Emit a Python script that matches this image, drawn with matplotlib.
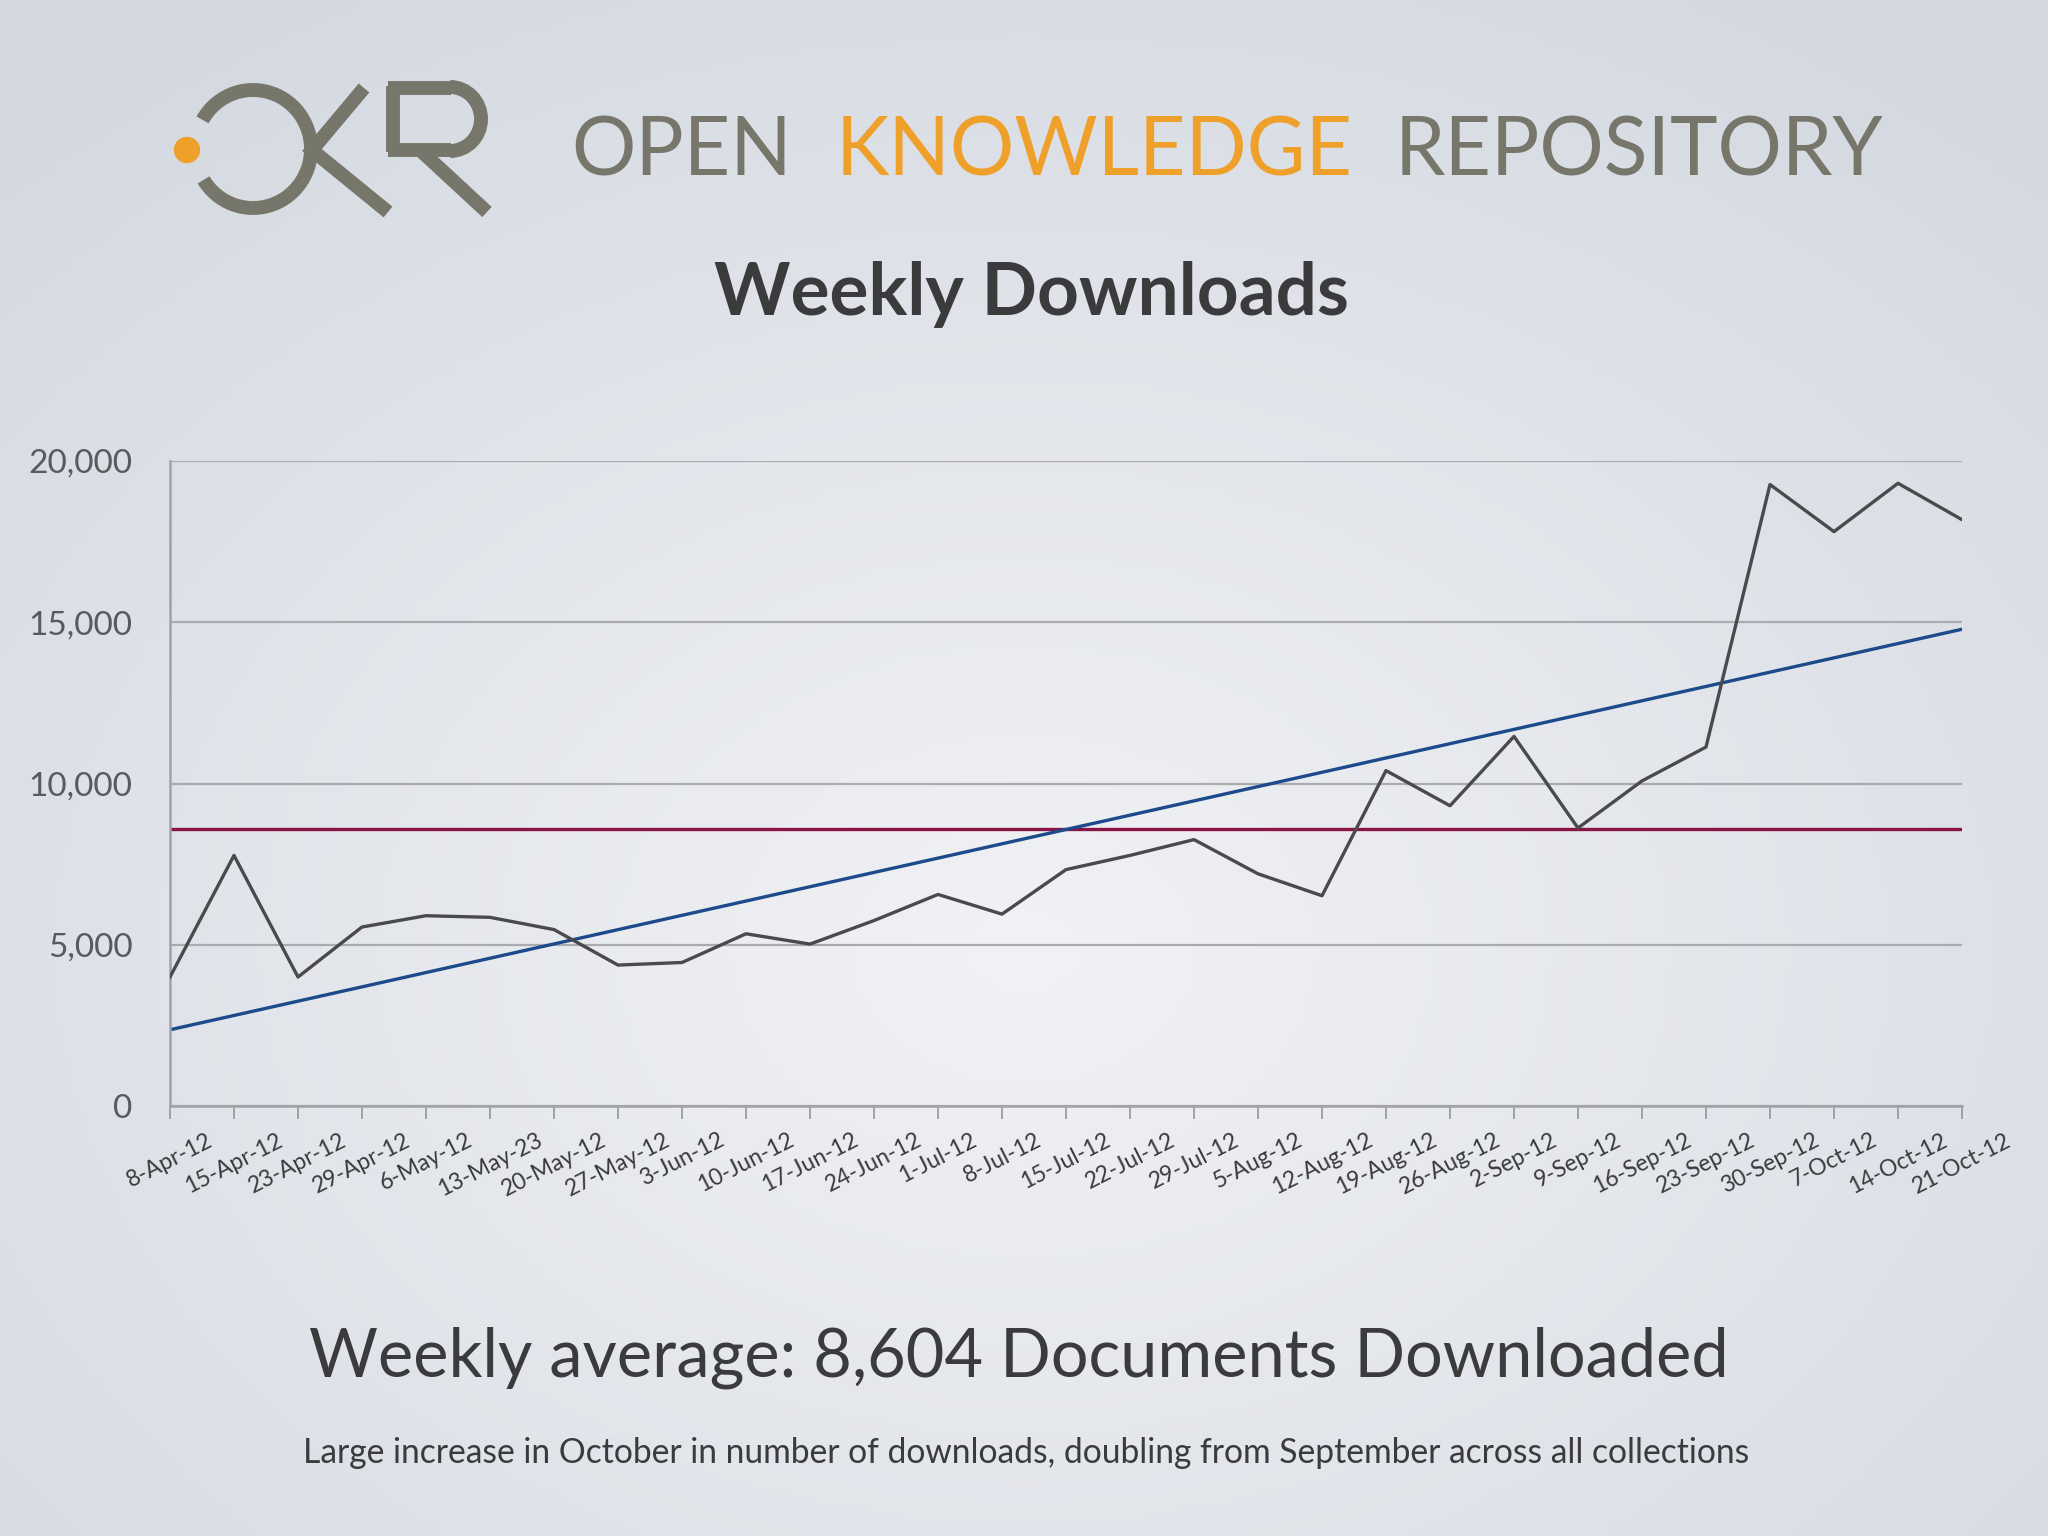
# coding: utf-8
import numpy as np
import matplotlib
matplotlib.use("Agg")
import matplotlib.pyplot as plt
from matplotlib.figure import Figure
from matplotlib.axes import Axes
from matplotlib.patches import Arc, Circle
from matplotlib.ticker import FuncFormatter

# data for drawing
weeks: list[str] = ["8-Apr-12", "15-Apr-12", "23-Apr-12", "29-Apr-12", "6-May-12",
                    "13-May-23", "20-May-12", "27-May-12", "3-Jun-12", "10-Jun-12",
                    "17-Jun-12", "24-Jun-12", "1-Jul-12", "8-Jul-12", "15-Jul-12",
                    "22-Jul-12", "29-Jul-12", "5-Aug-12", "12-Aug-12", "19-Aug-12",
                    "26-Aug-12", "2-Sep-12", "9-Sep-12", "16-Sep-12", "23-Sep-12",
                    "30-Sep-12", "7-Oct-12", "14-Oct-12", "21-Oct-12"]
downloads: list[int] = [4000, 7770, 4000, 5550, 5900, 5850, 5470, 4370, 4450, 5340,
                        5020, 5750, 6560, 5950, 7330, 7770, 8260, 7200, 6520, 10400,
                        9310, 11460, 8620, 10080, 11130, 19270, 17810, 19310, 18180]
weekly_average: int = 8604
y_ticks: list[int] = [0, 5000, 10000, 15000, 20000]

if __name__ == "__main__":
    plt.rcParams["font.family"] = ["Lato", "DejaVu Sans"]

    W, H = 2048, 1536
    fig: Figure = plt.figure(figsize=(W / 100, H / 100), dpi=100)

    # 背景: 淡灰蓝色径向渐变
    bg: Axes = fig.add_axes([0, 0, 1, 1])
    gx, gy = np.meshgrid(np.linspace(0, 1, 400), np.linspace(0, 1, 300))
    r = np.sqrt(((gx - 0.5) / 0.75) ** 2 + ((gy - 0.62) / 0.75) ** 2)
    r = np.clip(r, 0, 1)
    c_in = np.array([0xf1, 0xf2, 0xf5]) / 255
    c_out = np.array([0xd3, 0xd8, 0xe0]) / 255
    img = c_in[None, None, :] * (1 - r[..., None]) + c_out[None, None, :] * r[..., None]
    bg.imshow(img, extent=[0, W, H, 0], aspect="auto", zorder=0)
    bg.set_xlim(0, W)
    bg.set_ylim(H, 0)
    bg.axis("off")

    # logo (像素坐标)
    gray = "#76766a"
    orange = "#eea02a"
    lw = 10
    bg.add_patch(Circle((187, 150), 12.5, color=orange, zorder=2))
    bg.add_patch(Arc((253, 149), 116, 118, theta1=-150, theta2=148,
                     color=gray, lw=lw, zorder=2))
    bg.plot([364, 312, 388], [88, 150, 212], color=gray, lw=lw,
            solid_joinstyle="miter", solid_capstyle="butt", zorder=2)
    bg.plot([393, 393], [152, 86], color=gray, lw=lw, solid_capstyle="butt", zorder=2)
    bg.add_patch(Arc((450, 119), 62, 64, theta1=-90, theta2=90,
                     color=gray, lw=lw, zorder=2))
    bg.plot([388, 451], [88, 88], color=gray, lw=lw, solid_capstyle="butt", zorder=2)
    bg.plot([388, 451], [150, 150], color=gray, lw=lw, solid_capstyle="butt", zorder=2)
    bg.plot([420, 487], [150, 212], color=gray, lw=lw, solid_capstyle="butt", zorder=2)

    # 标题行
    head_kw = dict(fontsize=58, va="center", ha="left", zorder=2)
    bg.text(571, 152, "OPEN", color=gray, **head_kw)
    bg.text(836, 152, "KNOWLEDGE", color=orange, **head_kw)
    bg.text(1395, 152, "REPOSITORY", color=gray, **head_kw)
    bg.text(1032, 294, "Weekly Downloads", fontsize=52.5, fontweight="bold",
            color="#3b3b3d", ha="center", va="center", zorder=2)
    bg.text(1019, 1358, "Weekly average: 8,604 Documents Downloaded", fontsize=48,
            color="#3b3b3d", ha="center", va="center", zorder=2)
    bg.text(1026, 1453, "Large increase in October in number of downloads, "
            "doubling from September across all collections", fontsize=24.2,
            color="#3b3b3d", ha="center", va="center", zorder=2)

    # 主图
    ax: Axes = fig.add_axes([170 / W, 1 - 1106 / H, (1962 - 170) / W, (1106 - 461) / H])
    ax.patch.set_alpha(0)
    x = np.arange(len(weeks))
    y = np.array(downloads)

    ax.plot(x, y, color="#4a4a4c", lw=2.4, zorder=3)
    ax.axhline(weekly_average, color="#8a1446", lw=2.4, zorder=2)
    k, b = np.polyfit(x, y, 1)
    ax.plot(x, k * x + b, color="#1c4a8a", lw=2.4, zorder=2)

    ax.set_xlim(0, len(weeks) - 1)
    ax.set_ylim(0, 20000)
    ax.set_yticks(y_ticks)
    ax.yaxis.set_major_formatter(FuncFormatter(lambda v, p: f"{int(v):,}"))
    ax.grid(axis="y", color="#a9abb0", lw=1.6)
    ax.set_axisbelow(True)
    ax.tick_params(axis="y", length=0, pad=27, labelsize=24, labelcolor="#5a5a5e")
    ax.set_xticks(x)
    ax.set_xticklabels(weeks, rotation=27, ha="center", va="top",
                       fontsize=16.5, color="#3a3a3c")
    ax.tick_params(axis="x", length=9, width=1.4, color="#a0a2a8", pad=8)
    for s in ["top", "right"]:
        ax.spines[s].set_visible(False)
    for s in ["left", "bottom"]:
        ax.spines[s].set_color("#a0a2a8")
        ax.spines[s].set_linewidth(1.8)

    plt.savefig("out.png", dpi=100)
